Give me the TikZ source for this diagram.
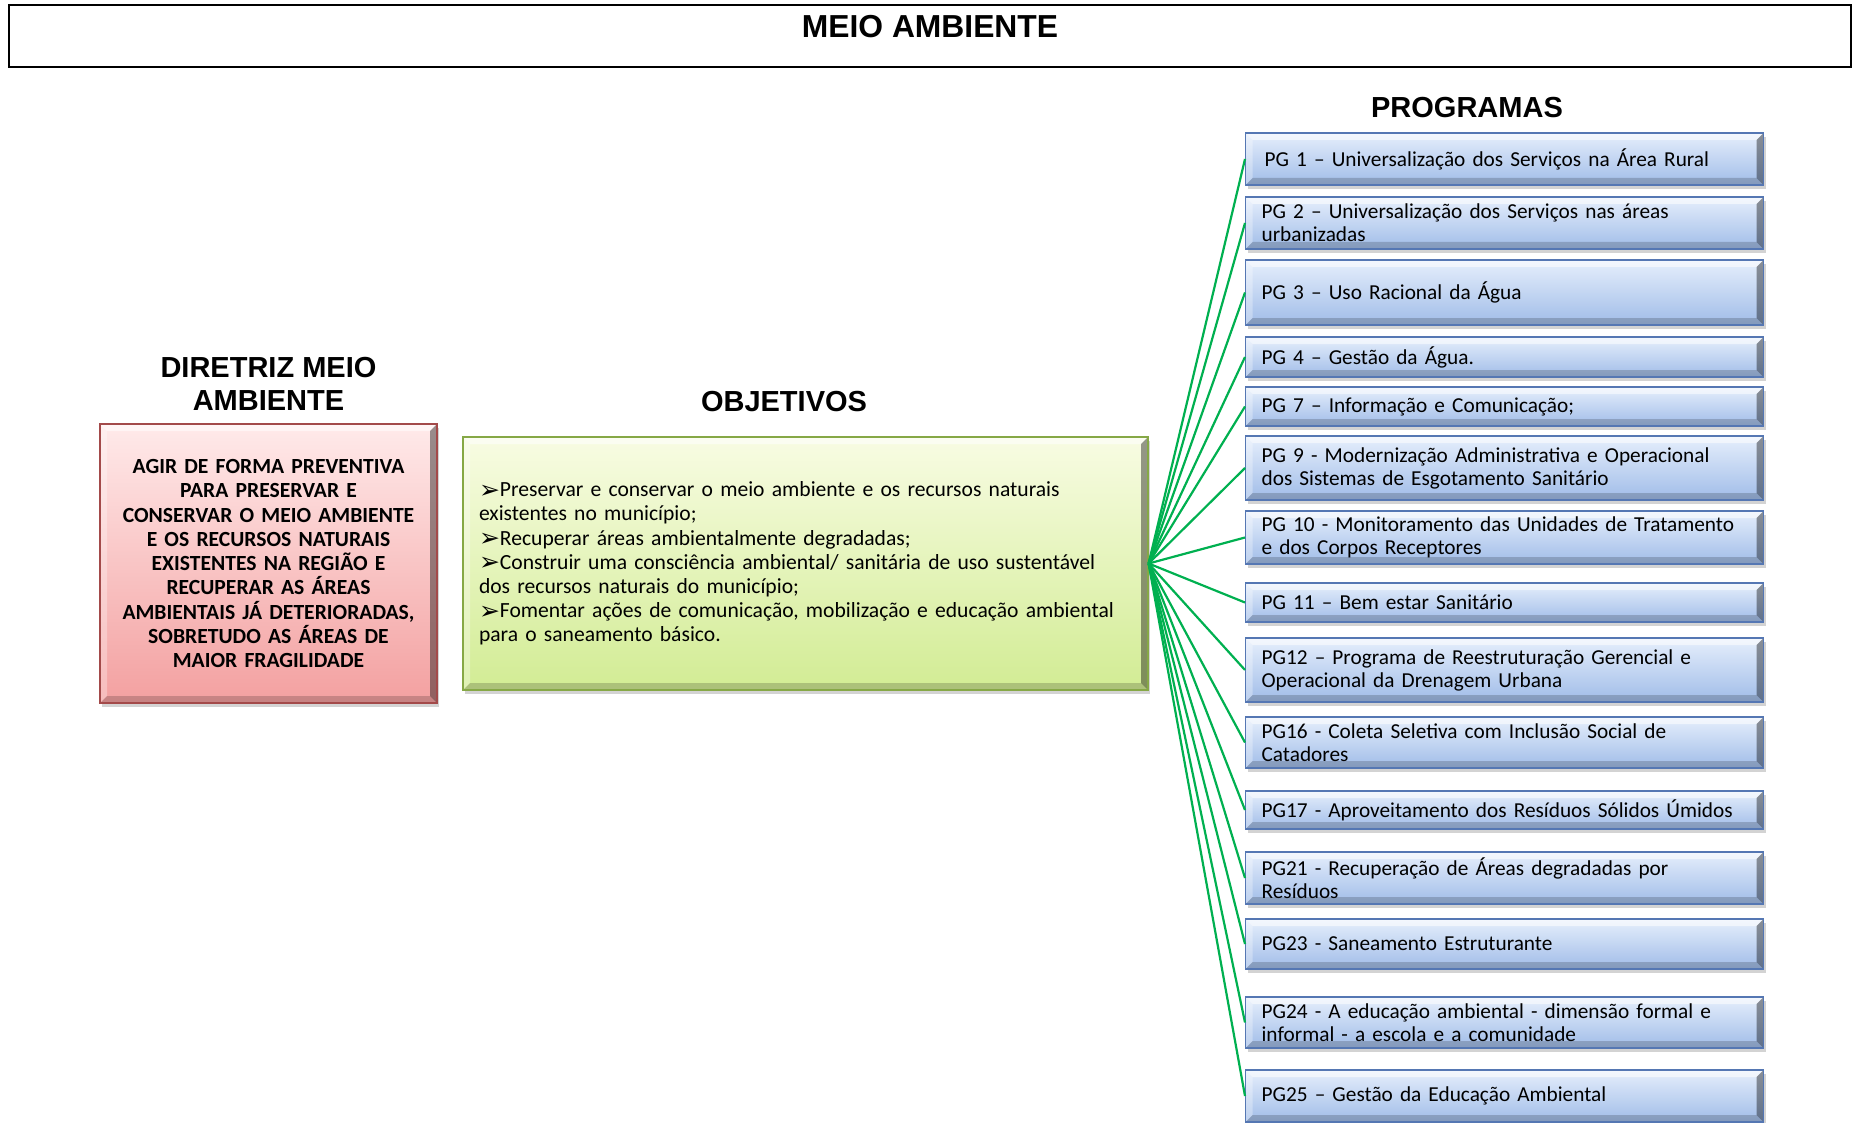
\documentclass[tikz,border=0pt]{standalone}
\usepackage{fontspec}
\setmainfont{Carlito}
\newfontfamily\headfont{Liberation Sans}
\newfontfamily\symfont{DejaVu Sans}
\usepackage{tikz}
\usetikzlibrary{shapes,positioning,shadows}
\definecolor{progtop}{HTML}{E6EFFC}
\definecolor{progbot}{HTML}{A0BCE8}
\definecolor{progline}{HTML}{5577B3}
\definecolor{dirtop}{HTML}{FFEAEA}
\definecolor{dirbot}{HTML}{F3A0A0}
\definecolor{dirline}{HTML}{A34A4A}
\definecolor{objtop}{HTML}{F8FCE3}
\definecolor{objbot}{HTML}{D2EC94}
\definecolor{objline}{HTML}{86A846}
\definecolor{fangreen}{HTML}{00B050}
\newcommand{\objmark}{{\symfont\fontsize{25}{24}\selectfont\raisebox{-1.5pt}{➢}}}

\begin{document}
\begin{tikzpicture}[x=1pt, y=-1pt,
    bevel/.style={path picture={
        \coordinate (bnw) at (path picture bounding box.north west);
        \coordinate (bne) at (path picture bounding box.north east);
        \coordinate (bsw) at (path picture bounding box.south west);
        \coordinate (bse) at (path picture bounding box.south east);
        \fill[white, opacity=.55] (bnw) -- (bne) -- ([xshift=-#1,yshift=-#1]bne) -- ([xshift=#1,yshift=-#1]bnw) -- cycle;
        \fill[white, opacity=.3] (bnw) -- ([xshift=#1,yshift=-#1]bnw) -- ([xshift=#1,yshift=#1]bsw) -- (bsw) -- cycle;
        \fill[black, opacity=.4] (bne) -- (bse) -- ([xshift=-#1,yshift=#1]bse) -- ([xshift=-#1,yshift=-#1]bne) -- cycle;
        \fill[black, opacity=.18] (bsw) -- (bse) -- ([xshift=-#1,yshift=#1]bse) -- ([xshift=#1,yshift=#1]bsw) -- cycle;}},
    boxshadow/.style={drop shadow={shadow xshift=2pt, shadow yshift=-4pt, opacity=.35}},
    titlebox/.style={draw, line width=1.6pt, minimum width=1842pt, minimum height=62pt},
    titletext/.style={font=\headfont\bfseries\fontsize{31.8}{35}\selectfont, inner sep=0pt},
    heading/.style={font=\headfont\bfseries\fontsize{29}{33}\selectfont, align=center, inner sep=0pt},
    dirbox/.style={draw=dirline, line width=1.2pt, top color=dirtop, bottom color=dirbot,
                   bevel=7pt, boxshadow, minimum width=337pt, minimum height=279pt,
                   text width=315pt, inner xsep=11pt, align=center, font=\bfseries\fontsize{21.6}{24.25}\selectfont},
    objbox/.style={draw=objline, line width=1.2pt, top color=objtop, bottom color=objbot,
                   bevel=7pt, boxshadow, minimum width=685pt, minimum height=253pt,
                   text width=653pt, inner xsep=16pt, align=left, font=\fontsize{21.6}{24.2}\selectfont},
    progbox/.style={draw=progline, line width=1.2pt, top color=progtop, bottom color=progbot,
                    bevel=7pt, boxshadow, anchor=west, minimum width=518pt, text width=486pt,
                    inner xsep=16pt, inner ysep=0pt, align=left, font=\fontsize{21.3}{23}\selectfont},
    fan/.style={-, line width=2.2pt, color=fangreen}
]
\useasboundingbox (0,0) rectangle (1854,1123);

% --- title ---
\node[titlebox, label={[titletext, anchor=north, yshift=-11pt]north:MEIO AMBIENTE}] (title) at (930,36) {};

% --- headings ---
\node[heading] (dirhead) at (268.5,383.5) {DIRETRIZ MEIO\\AMBIENTE};
\node[heading] (objhead) at (784,402) {OBJETIVOS};
\node[heading] (proghead) at (1467,108) {PROGRAMAS};

% --- diretriz ---
\node[dirbox] (dir) at (268.5,563.5) {AGIR DE FORMA PREVENTIVA\\PARA PRESERVAR E\\CONSERVAR O MEIO AMBIENTE\\E OS RECURSOS NATURAIS\\EXISTENTES NA REGIÃO E\\RECUPERAR AS ÁREAS\\AMBIENTAIS JÁ DETERIORADAS,\\SOBRETUDO AS ÁREAS DE\\MAIOR FRAGILIDADE};

% --- objetivos ---
\node[objbox] (obj) at (805.5,563.5) {\objmark Preservar e conservar o meio ambiente e os recursos naturais\\existentes no município;\\\objmark Recuperar áreas ambientalmente degradadas;\\\objmark Construir uma consciência ambiental/ sanitária de uso sustentável\\dos recursos naturais do município;\\\objmark Fomentar ações de comunicação, mobilização e educação ambiental\\para o saneamento básico.};

% --- programas ---
\node[progbox, minimum height=52pt] (pg1)  at (1245,159)   {\hspace*{3pt}PG 1 – Universalização dos Serviços na Área Rural};
\node[progbox, minimum height=52pt] (pg2)  at (1245,223)   {PG 2 – Universalização dos Serviços nas áreas\\urbanizadas};
\node[progbox, minimum height=65pt] (pg3)  at (1245,292.5) {PG 3 – Uso Racional da Água};
\node[progbox, minimum height=40pt] (pg4)  at (1245,357)   {PG 4 – Gestão da Água.};
\node[progbox, minimum height=39pt] (pg7)  at (1245,406.5) {PG 7 – Informação e Comunicação;};
\node[progbox, minimum height=64pt] (pg9)  at (1245,468)   {PG 9 - Modernização Administrativa e Operacional\\dos Sistemas de Esgotamento Sanitário};
\node[progbox, minimum height=53pt] (pg10) at (1245,537.5) {PG 10 - Monitoramento das Unidades de Tratamento\\e dos Corpos Receptores};
\node[progbox, minimum height=39pt] (pg11) at (1245,602.5) {PG 11 – Bem estar Sanitário};
\node[progbox, minimum height=64pt] (pg12) at (1245,670)   {PG12 – Programa de Reestruturação Gerencial e\\Operacional da Drenagem Urbana};
\node[progbox, minimum height=51pt] (pg16) at (1245,742.5) {PG16 - Coleta Seletiva com Inclusão Social de\\Catadores};
\node[progbox, minimum height=38pt] (pg17) at (1245,810)   {PG17 - Aproveitamento dos Resíduos Sólidos Úmidos};
\node[progbox, minimum height=52pt] (pg21) at (1245,878)   {PG21 - Recuperação de Áreas degradadas por\\Resíduos};
\node[progbox, minimum height=50pt] (pg23) at (1245,944)   {PG23 - Saneamento Estruturante};
\node[progbox, minimum height=51pt] (pg24) at (1245,1022.5) {PG24 - A educação ambiental - dimensão formal e\\informal - a escola e a comunidade};
\node[progbox, minimum height=52pt] (pg25) at (1245,1096)  {PG25 – Gestão da Educação Ambiental};

% --- connections: objetivos -> programas ---
\draw[fan] (obj.east) -- (pg1.west);
\draw[fan] (obj.east) -- (pg2.west);
\draw[fan] (obj.east) -- (pg3.west);
\draw[fan] (obj.east) -- (pg4.west);
\draw[fan] (obj.east) -- (pg7.west);
\draw[fan] (obj.east) -- (pg9.west);
\draw[fan] (obj.east) -- (pg10.west);
\draw[fan] (obj.east) -- (pg11.west);
\draw[fan] (obj.east) -- (pg12.west);
\draw[fan] (obj.east) -- (pg16.west);
\draw[fan] (obj.east) -- (pg17.west);
\draw[fan] (obj.east) -- (pg21.west);
\draw[fan] (obj.east) -- (pg23.west);
\draw[fan] (obj.east) -- (pg24.west);
\draw[fan] (obj.east) -- (pg25.west);

\end{tikzpicture}
\end{document}
